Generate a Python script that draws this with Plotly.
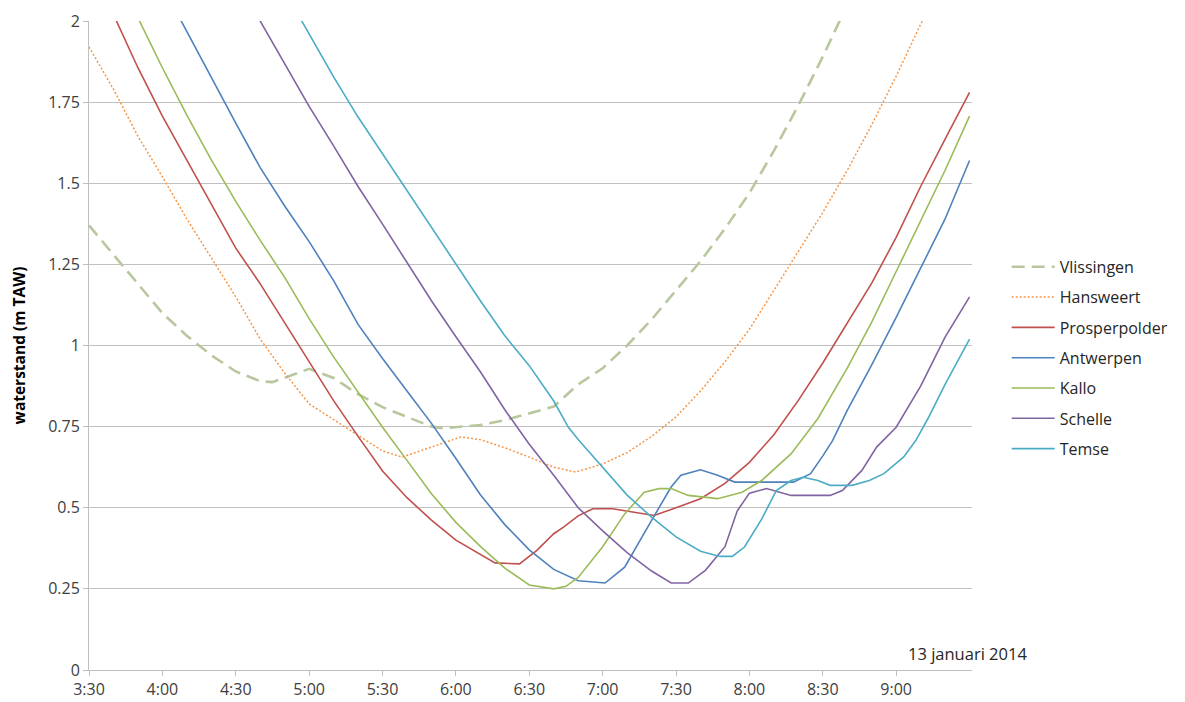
import plotly.graph_objects as go

DAY = "2014-01-13 "

# ---- data (clock time, waterstand m TAW) ----
vlissingen_t = ["3:30","3:40","3:50","4:00","4:10","4:20","4:30","4:40","4:45","4:50","5:00","5:10","5:20","5:30","5:40","5:50","5:55","6:00","6:10","6:20","6:30","6:40","6:50","7:00","7:10","7:20","7:30","7:40","7:50","8:00","8:10","8:20","8:30","8:40"]
vlissingen_v = [1.37,1.28,1.19,1.10,1.03,0.97,0.92,0.89,0.887,0.90,0.928,0.90,0.85,0.81,0.78,0.75,0.745,0.748,0.755,0.77,0.79,0.812,0.88,0.93,1.00,1.08,1.17,1.26,1.36,1.47,1.60,1.74,1.89,2.05]

hansweert_t = ["3:30","3:40","3:50","4:00","4:10","4:20","4:30","4:40","4:50","5:00","5:10","5:20","5:30","5:38","5:50","6:02","6:10","6:20","6:30","6:40","6:49","7:00","7:10","7:20","7:30","7:40","7:50","8:00","8:10","8:20","8:30","8:40","8:50","9:00","9:10","9:15"]
hansweert_v = [1.92,1.79,1.645,1.52,1.39,1.27,1.15,1.02,0.915,0.82,0.772,0.725,0.675,0.656,0.688,0.718,0.71,0.685,0.656,0.625,0.61,0.635,0.67,0.72,0.78,0.86,0.95,1.05,1.17,1.29,1.41,1.54,1.68,1.83,1.99,2.06]

prosperpolder_t = ["3:40","3:50","4:00","4:10","4:20","4:30","4:40","4:50","5:00","5:10","5:20","5:30","5:40","5:50","6:00","6:10","6:16","6:26","6:33","6:40","6:44","6:50","6:56","7:04","7:12","7:21","7:30","7:40","7:50","8:00","8:10","8:20","8:30","8:40","8:50","9:00","9:10","9:20","9:30"]
prosperpolder_v = [2.02,1.856,1.707,1.57,1.435,1.30,1.19,1.07,0.95,0.83,0.72,0.613,0.531,0.462,0.40,0.355,0.33,0.327,0.368,0.42,0.44,0.475,0.497,0.497,0.487,0.476,0.50,0.528,0.575,0.64,0.725,0.831,0.946,1.067,1.192,1.333,1.49,1.636,1.78]

antwerpen_t = ["4:07","4:10","4:20","4:30","4:40","4:50","5:00","5:10","5:20","5:30","5:40","5:50","6:00","6:10","6:20","6:30","6:40","6:50","7:01","7:09","7:20","7:28","7:32","7:40","7:47","7:54","8:18","8:25","8:30","8:34","8:40","8:50","9:00","9:10","9:20","9:30"]
antwerpen_v = [2.01,1.967,1.825,1.685,1.548,1.43,1.32,1.20,1.065,0.96,0.86,0.76,0.652,0.54,0.448,0.37,0.31,0.275,0.268,0.317,0.461,0.564,0.60,0.617,0.60,0.579,0.579,0.605,0.66,0.707,0.80,0.94,1.087,1.237,1.39,1.57]

kallo_t = ["3:50","4:00","4:10","4:20","4:30","4:40","4:50","5:00","5:10","5:20","5:30","5:40","5:50","6:00","6:10","6:20","6:30","6:40","6:45","6:50","7:00","7:09","7:17","7:23","7:28","7:35","7:47","7:57","8:05","8:17","8:28","8:40","8:50","9:00","9:10","9:20","9:30"]
kallo_v = [2.01,1.856,1.71,1.572,1.444,1.324,1.21,1.083,0.965,0.857,0.748,0.646,0.543,0.455,0.381,0.314,0.262,0.25,0.258,0.285,0.38,0.481,0.548,0.559,0.559,0.538,0.528,0.548,0.584,0.666,0.775,0.93,1.072,1.228,1.383,1.54,1.707]

schelle_t = ["4:39","4:50","5:00","5:10","5:20","5:30","5:40","5:50","6:00","6:10","6:20","6:30","6:40","6:50","7:00","7:10","7:20","7:28","7:35","7:42","7:50","7:55","8:00","8:07","8:17","8:33","8:38","8:46","8:52","9:00","9:10","9:20","9:30"]
schelle_v = [2.013,1.869,1.737,1.615,1.49,1.374,1.256,1.138,1.027,0.919,0.802,0.696,0.60,0.50,0.429,0.362,0.305,0.268,0.268,0.307,0.38,0.49,0.545,0.559,0.538,0.538,0.553,0.615,0.687,0.748,0.875,1.026,1.15]

temse_t = ["4:56","5:00","5:10","5:20","5:30","5:40","5:50","6:00","6:10","6:20","6:30","6:40","6:46","6:50","7:00","7:10","7:20","7:30","7:40","7:48","7:53","7:58","8:05","8:11","8:17","8:22","8:28","8:33","8:42","8:49","8:55","9:03","9:08","9:13","9:20","9:30"]
temse_v = [2.013,1.96,1.828,1.704,1.59,1.477,1.364,1.25,1.138,1.03,0.938,0.829,0.748,0.71,0.625,0.539,0.471,0.41,0.366,0.35,0.35,0.379,0.465,0.553,0.584,0.594,0.584,0.569,0.569,0.584,0.605,0.656,0.707,0.775,0.88,1.02]

x_tick_labels = ["3:30", "4:00", "4:30", "5:00", "5:30", "6:00", "6:30",
                 "7:00", "7:30", "8:00", "8:30", "9:00"]
y_tick_vals = [0, 0.25, 0.5, 0.75, 1, 1.25, 1.5, 1.75, 2]
y_tick_text = ["0", "0.25", "0.5", "0.75", "1", "1.25", "1.5", "1.75", "2"]


def ts(times):
    return [DAY + (t if len(t) == 5 else "0" + t) for t in times]


series = [
    ("Vlissingen", vlissingen_t, vlissingen_v, dict(color="#b9c79e", width=2.6, dash="13px,7px")),
    ("Hansweert", hansweert_t, hansweert_v, dict(color="#f79646", width=1.5, dash="2px,2px")),
    ("Prosperpolder", prosperpolder_t, prosperpolder_v, dict(color="#c0504d", width=1.6)),
    ("Antwerpen", antwerpen_t, antwerpen_v, dict(color="#4f81bd", width=1.6)),
    ("Kallo", kallo_t, kallo_v, dict(color="#9bbb59", width=1.6)),
    ("Schelle", schelle_t, schelle_v, dict(color="#8064a2", width=1.6)),
    ("Temse", temse_t, temse_v, dict(color="#4bacc6", width=1.6)),
]

fig = go.Figure()
for name, t, v, line in series:
    fig.add_trace(go.Scatter(x=ts(t), y=v, mode="lines", name=name, line=line,
                             legendgroup=name))

FONT = "Open Sans"
fig.update_layout(
    width=1177, height=694,
    margin=dict(l=81, r=205, t=13, b=32),
    paper_bgcolor="white", plot_bgcolor="white",
    font=dict(family=FONT, size=16, color="#404040"),
    showlegend=True,
    legend=dict(x=1.0393, xanchor="left", y=0.6473, yanchor="top",
                font=dict(family=FONT, size=16, color="#262626"),
                tracegroupgap=6.5, traceorder="grouped",
                bgcolor="rgba(0,0,0,0)", itemwidth=43),
    xaxis=dict(
        type="date",
        range=[DAY + "03:30", DAY + "09:31"],
        tickvals=ts(x_tick_labels), ticktext=x_tick_labels,
        showgrid=False, zeroline=False,
        showline=True, linecolor="#bfbfbf", linewidth=1,
        ticks="outside", ticklen=5, tickcolor="#bfbfbf",
        tickfont=dict(family=FONT, size=16, color="#404040"),
        automargin=False,
    ),
    yaxis=dict(
        range=[0, 2],
        tickvals=y_tick_vals, ticktext=y_tick_text,
        showgrid=True, gridcolor="#c0c0c0", gridwidth=1,
        zeroline=False,
        showline=True, linecolor="#bfbfbf", linewidth=1,
        ticks="outside", ticklen=5, tickcolor="#bfbfbf",
        tickfont=dict(family=FONT, size=16, color="#404040"),
        title=dict(text="<b>waterstand (m TAW)</b>",
                   font=dict(family=FONT, size=15.5, color="#000000"),
                   standoff=22),
        automargin=False,
    ),
    annotations=[dict(
        text="13 januari 2014", xref="paper", yref="paper",
        x=0.925, y=0.0247, xanchor="left", yanchor="middle",
        showarrow=False, font=dict(family=FONT, size=16.5, color="#262626"),
    )],
)

fig.write_html("out.html")
